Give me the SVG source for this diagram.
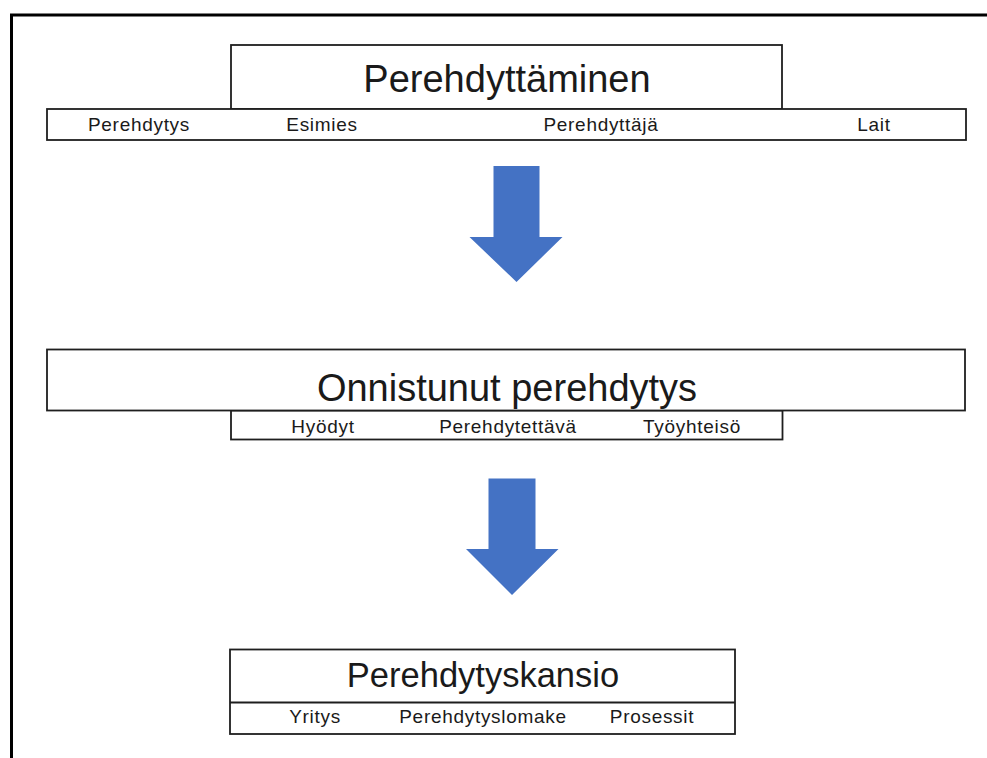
<svg xmlns="http://www.w3.org/2000/svg" width="987" height="758" viewBox="0 0 987 758">
<style>
.box{fill:#fff;stroke:#1e1e1e;stroke-width:1.8}
.title{font-family:"Liberation Sans",Arial,sans-serif;font-size:38px;fill:#1a1a1a;text-anchor:middle}
.sub{font-family:"Liberation Sans",Arial,sans-serif;font-size:19px;fill:#1a1a1a;text-anchor:middle;letter-spacing:0.7px}
.arrow{fill:#4472C4}
</style>
<rect width="987" height="758" fill="#fff"/>
<path d="M11.5,758 V15 H987" fill="none" stroke="#000" stroke-width="3"/>
<g id="perehdyttaminen">
<rect class="box" x="231" y="45" width="551" height="64"/>
<rect class="box" x="47" y="109" width="919" height="31"/>
<text class="title" x="507" y="92">Perehdyttäminen</text>
<text class="sub" x="139" y="131">Perehdytys</text>
<text class="sub" x="322" y="131">Esimies</text>
<text class="sub" x="601" y="131">Perehdyttäjä</text>
<text class="sub" x="874" y="131">Lait</text>
</g>
<g id="onnistunut">
<rect class="box" x="231" y="410.5" width="551.5" height="29"/>
<rect class="box" x="47" y="349.5" width="918" height="61"/>
<text class="title" x="507" y="401">Onnistunut perehdytys</text>
<text class="sub" x="323" y="433">Hyödyt</text>
<text class="sub" x="508" y="433">Perehdytettävä</text>
<text class="sub" x="692" y="433">Työyhteisö</text>
</g>
<g id="kansio">
<rect class="box" x="230" y="649.5" width="505" height="84.5"/>
<line x1="230" y1="702.5" x2="735" y2="702.5" stroke="#1e1e1e" stroke-width="1.8"/>
<text class="title" x="483" y="687" style="font-size:34.5px">Perehdytyskansio</text>
<text class="sub" x="315" y="723">Yritys</text>
<text class="sub" x="483" y="723">Perehdytyslomake</text>
<text class="sub" x="652" y="723">Prosessit</text>
</g>
<g id="connectors">
<path class="arrow" d="M493.5,166 H539.5 V237 H562.5 L516.5,282 L469.5,237 H493.5 Z"/>
<path class="arrow" d="M488.5,478.5 H535.5 V549 H558.5 L512,595 L466,549 H488.5 Z"/>
</g>
</svg>
